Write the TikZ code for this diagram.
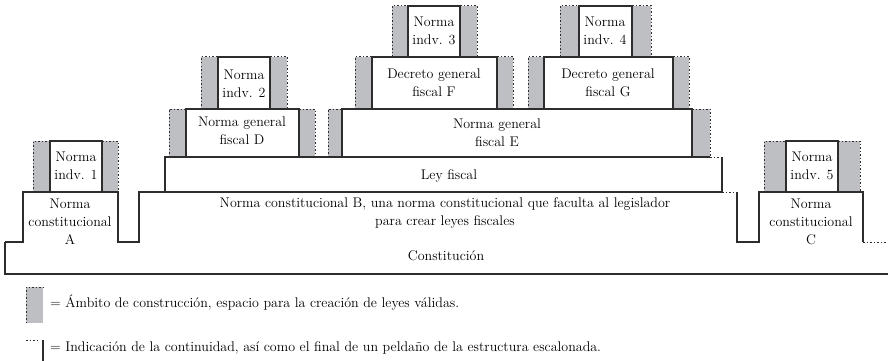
\documentclass[tikz,border=0pt]{standalone}
\begin{document}
\begin{tikzpicture}[x=1pt,y=-1pt]
\definecolor{ln}{RGB}{45,45,45}
\definecolor{gr}{RGB}{190,191,194}
\tikzset{
 solidline/.style={draw=ln, line width=1.3pt},
 dotline/.style={draw=ln, line width=1pt, dash pattern=on 1.5pt off 2pt},
 lbl/.style={font=\fontsize{14}{18}\selectfont, align=center, inner sep=0pt, text=black},
 leg/.style={font=\fontsize{14}{18}\selectfont, anchor=west, inner sep=0pt, text=black},
}
\newcommand\ambL[4]{\fill[gr] (#1,#3) rectangle (#2,#4); \draw[dotline] (#1,#4) -- (#1,#3) -- (#2,#3);}
\newcommand\ambR[4]{\fill[gr] (#1,#3) rectangle (#2,#4); \draw[dotline] (#1,#3) -- (#2,#3) -- (#2,#4);}
\useasboundingbox (0,0) rectangle (888,361);
% construction spaces
\ambL{33}{50}{141}{192}   \ambR{102}{118}{141}{192}
\ambL{169}{186}{109}{157} \ambR{299}{315}{109}{157}
\ambL{328}{342}{109}{157} \ambR{692}{710}{109}{157}
\ambL{201}{218}{57}{109}  \ambR{270}{287}{57}{109}
\ambL{355}{372}{57}{109}  \ambR{497}{513}{57}{109}
\ambL{528}{544}{57}{109}  \ambR{673}{689}{57}{109}
\ambL{392}{408}{6}{57}    \ambR{460}{477}{6}{57}
\ambL{560}{579}{6}{57}    \ambR{632}{651}{6}{57}
\ambL{764}{786}{141}{192} \ambR{838}{860}{141}{192}
% Constitucion
\draw[solidline] (5,242) -- (5,274) -- (888,274);
\draw[solidline] (5,242) -- (23,242) -- (23,192) -- (118,192) -- (118,242) -- (139,242) -- (139,192) -- (722,192);
\draw[dotline] (722,192) -- (737,192);
\draw[solidline] (737,192) -- (737,242) -- (759,242) -- (759,192) -- (863,192) -- (863,242);
\draw[dotline] (863,242) -- (888,242);
% Ley fiscal
\draw[solidline] (165,192) -- (165,157) -- (710,157);
\draw[dotline] (710,157) -- (722,157);
\draw[solidline] (722,157) -- (722,192);
% D, E
\draw[solidline] (186,157) -- (186,109) -- (299,109) -- (299,157);
\draw[solidline] (342,157) -- (342,109) -- (692,109) -- (692,157);
% F, G
\draw[solidline] (372,109) -- (372,57) -- (497,57) -- (497,109);
\draw[solidline] (544,109) -- (544,57) -- (673,57) -- (673,109);
% individual norms
\draw[solidline] (50,192) -- (50,141) -- (102,141) -- (102,192);
\draw[solidline] (218,109) -- (218,57) -- (270,57) -- (270,109);
\draw[solidline] (408,57) -- (408,6) -- (460,6) -- (460,57);
\draw[solidline] (579,57) -- (579,6) -- (632,6) -- (632,57);
\draw[solidline] (786,192) -- (786,141) -- (838,141) -- (838,192);
% labels
\node[lbl] (n1) at (76,166) {Norma\\indv. 1};
\node[lbl] (nA) at (70,222) {Norma\\constitucional\\A};
\node[lbl] (nB) at (445,213) {Norma constitucional B, una norma constitucional que faculta al legislador\\para crear leyes fiscales};
\node[lbl] (nCon) at (446,256) {Constitución};
\node[lbl] (nLey) at (449,176) {Ley fiscal};
\node[lbl] (nD) at (242,131) {Norma general\\fiscal D};
\node[lbl] (nE) at (497,133) {Norma general\\fiscal E};
\node[lbl] (n2) at (244,84) {Norma\\indv. 2};
\node[lbl] (nF) at (434,83) {Decreto general\\fiscal F};
\node[lbl] (nG) at (608,83) {Decreto general\\fiscal G};
\node[lbl] (n3) at (434,31) {Norma\\indv. 3};
\node[lbl] (n4) at (605,31) {Norma\\indv. 4};
\node[lbl] (n5) at (812,166) {Norma\\indv. 5};
\node[lbl] (nC) at (811,222) {Norma\\constitucional\\C};
% legend
\ambL{26}{43}{287}{323}
\node[leg] (l1) at (50,303) {= Ámbito de construcción, espacio para la creación de leyes válidas.};
\draw[dotline] (26,340) -- (40,340);
\draw[solidline] (43,340) -- (43,361);
\node[leg] (l2) at (50,348) {= Indicación de la continuidad, así como el final de un peldaño de la estructura escalonada.};
\end{tikzpicture}
\end{document}
